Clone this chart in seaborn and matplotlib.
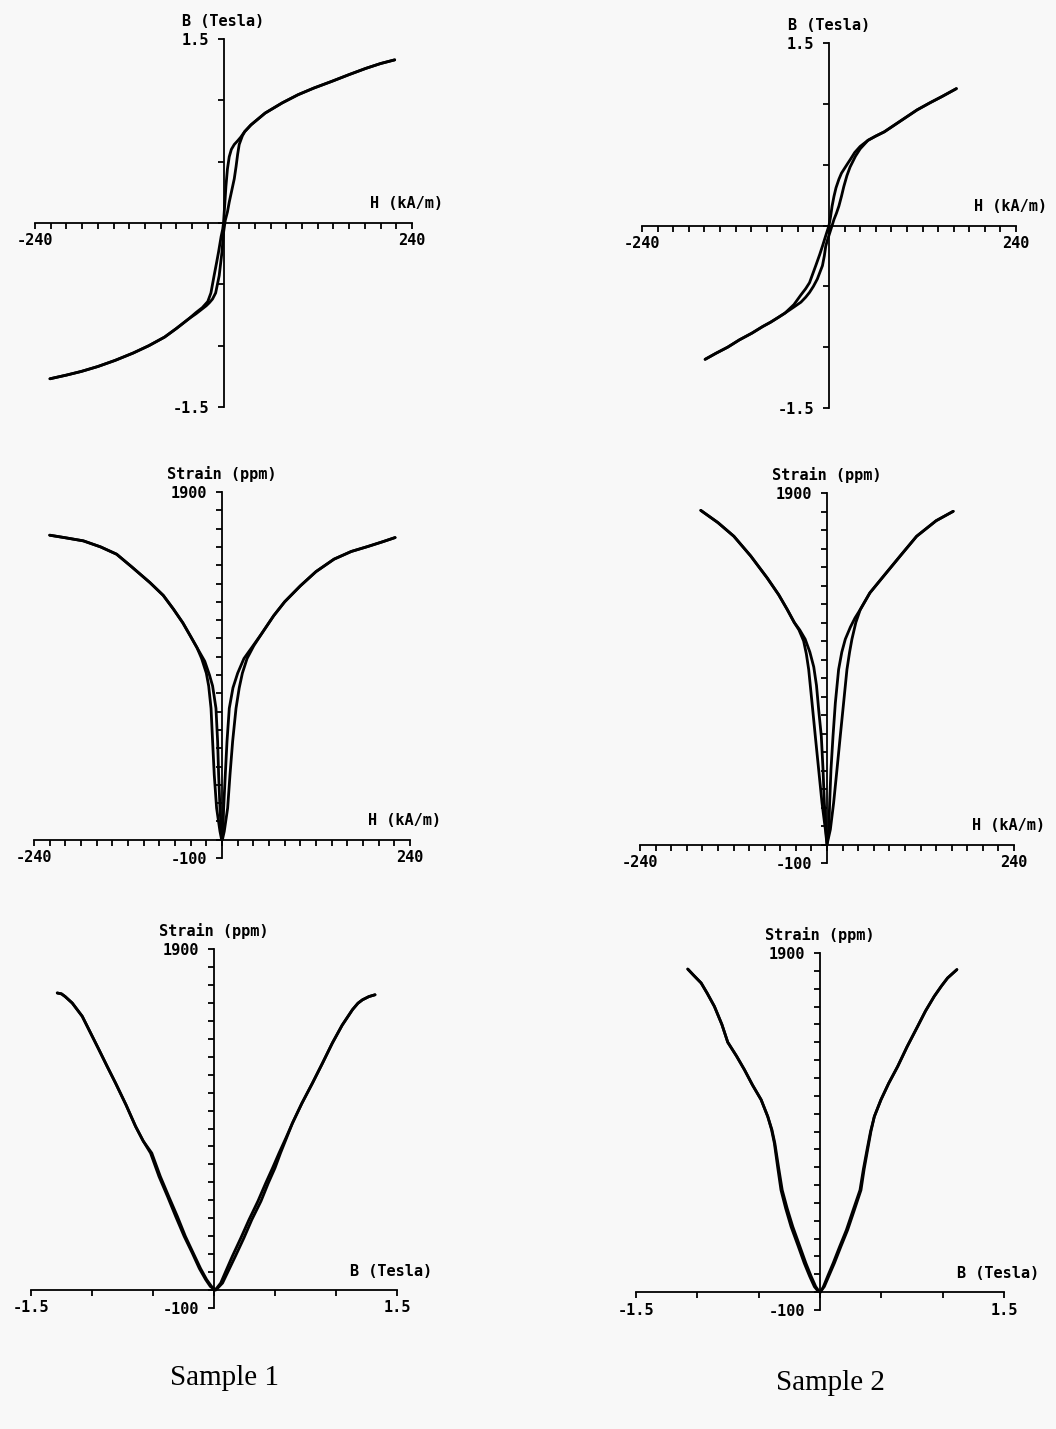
import numpy as np
import pandas as pd
import matplotlib
matplotlib.use("Agg")
import matplotlib.pyplot as plt
import seaborn as sns

# ---------------- DATA ----------------
# Sample 1, B (Tesla) vs H (kA/m): two branches of the loop
s1_bh_H_a = [-221, -200, -181, -160, -138, -115, -95, -75, -60, -44, -35, -27, -20, -16, -12, -9, -6.4, -3, -1, 0, 0.9, 2, 3.1, 5, 7.3, 10, 13.7, 18, 22, 27, 35, 53, 75, 95, 115, 138, 160, 181, 200, 218]
s1_bh_B_a = [-1.27, -1.24, -1.21, -1.17, -1.12, -1.06, -1.00, -0.93, -0.86, -0.78, -0.73, -0.69, -0.64, -0.57, -0.43, -0.33, -0.24, -0.11, -0.05, 0.0, 0.086, 0.19, 0.30, 0.44, 0.54, 0.60, 0.64, 0.67, 0.70, 0.745, 0.80, 0.896, 0.98, 1.046, 1.10, 1.155, 1.21, 1.26, 1.30, 1.33]
s1_bh_H_b = [-221, -200, -181, -160, -138, -115, -95, -75, -60, -44, -35, -27, -22, -18, -14, -10, -5.5, -2, 0, 2.2, 5, 7.3, 10, 13.7, 16, 18, 20, 24, 27, 35, 53, 75, 95, 115, 138, 160, 181, 200, 218]
s1_bh_B_b = [-1.27, -1.24, -1.21, -1.17, -1.12, -1.06, -1.00, -0.93, -0.86, -0.78, -0.74, -0.70, -0.675, -0.65, -0.62, -0.57, -0.43, -0.24, -0.08, 0.02, 0.09, 0.17, 0.25, 0.36, 0.46, 0.56, 0.64, 0.71, 0.745, 0.80, 0.896, 0.98, 1.046, 1.10, 1.155, 1.21, 1.26, 1.30, 1.33]

# Sample 2, B (Tesla) vs H (kA/m)
s2_bh_H_a = [-159, -145, -130, -115, -99, -85, -75, -65, -56.5, -45, -36, -30, -25, -21, -17, -12, -8.4, -5, -2, 0, 2.1, 4, 6.4, 9, 12.7, 16, 20, 24, 27.6, 33, 40, 50, 60, 71, 85, 99, 113, 130, 145, 163.5]
s2_bh_B_a = [-1.10, -1.05, -1.00, -0.94, -0.885, -0.83, -0.795, -0.755, -0.72, -0.65, -0.57, -0.52, -0.47, -0.40, -0.33, -0.24, -0.17, -0.10, -0.04, 0.0, 0.076, 0.16, 0.24, 0.31, 0.38, 0.43, 0.47, 0.51, 0.545, 0.60, 0.65, 0.70, 0.735, 0.77, 0.83, 0.89, 0.95, 1.01, 1.06, 1.125]
s2_bh_H_b = [-159, -145, -130, -115, -99, -85, -75, -65, -56.5, -45, -36, -30, -25, -20, -15, -12, -8.4, -6, -4.2, -2, 0, 3, 6.4, 9.5, 12.7, 16, 19, 23, 27, 34, 40, 50, 60, 71, 85, 99, 113, 130, 145, 163.5]
s2_bh_B_b = [-1.10, -1.05, -1.00, -0.94, -0.885, -0.83, -0.795, -0.755, -0.72, -0.67, -0.63, -0.59, -0.55, -0.50, -0.44, -0.39, -0.33, -0.25, -0.17, -0.12, -0.08, -0.02, 0.05, 0.10, 0.16, 0.24, 0.32, 0.41, 0.48, 0.57, 0.63, 0.70, 0.735, 0.77, 0.83, 0.89, 0.95, 1.01, 1.06, 1.125]

# Sample 1, strain (ppm) vs H (kA/m)
s1_sh_H_a = [-220, -200, -177, -155, -134.5, -115, -92, -75, -62, -50, -40.6, -32, -26, -20, -17, -14, -12, -9.9, -6.9, -2.6, -0.5, 1.2, 2.1, 4.2, 6.4, 9.3, 14, 20, 28, 38, 50, 66, 80, 100, 120, 143, 165, 186, 205, 221]
s1_sh_S_a = [1664, 1650, 1633, 1600, 1560, 1490, 1405, 1335, 1260, 1185, 1115, 1050, 990, 910, 840, 718, 538, 355, 173, 46, 0, 46, 173, 355, 538, 718, 830, 910, 990, 1050, 1122, 1224, 1300, 1387, 1465, 1533, 1575, 1602, 1628, 1651]
s1_sh_H_b = [-220, -200, -177, -155, -134.5, -115, -92, -75, -62, -50, -40.6, -32, -22, -16, -12, -7.7, -5.6, -4.3, -2.6, -0.9, 0.5, 2.9, 7.2, 10.2, 13.6, 17.9, 22, 26, 32, 40.6, 50, 66, 80, 100, 120, 143, 165, 186, 205, 221]
s1_sh_S_b = [1664, 1650, 1633, 1600, 1560, 1490, 1405, 1335, 1260, 1185, 1115, 1050, 975, 900, 840, 718, 538, 355, 173, 46, 0, 46, 173, 355, 538, 718, 830, 910, 990, 1060, 1122, 1224, 1300, 1387, 1465, 1533, 1575, 1602, 1628, 1651]

# Sample 2, strain (ppm) vs H (kA/m)
s2_sh_H_a = [-162, -140, -119.5, -98, -76.8, -62, -51, -42, -36, -30, -26.5, -23.5, -19.2, -15, -10.7, -6.4, -2.1, 0, 2.3, 3.4, 5.1, 7.7, 10.7, 14.9, 19, 23.5, 30, 36, 42.7, 55, 72.5, 95, 115, 140, 162]
s2_sh_S_a = [1806, 1740, 1666, 1560, 1441, 1350, 1270, 1200, 1160, 1100, 1030, 946, 765, 585, 405, 225, 81, 0, 81, 225, 405, 585, 765, 946, 1040, 1110, 1175, 1225, 1270, 1360, 1450, 1565, 1666, 1750, 1801]
s2_sh_H_b = [-162, -140, -119.5, -98, -76.8, -62, -51, -42, -35, -28, -22, -17, -13.5, -10.5, -7.3, -5.1, -3.4, -1.3, 0, 4.3, 8.5, 12.8, 17, 21.3, 25.6, 29, 32, 37, 42.7, 55, 72.5, 95, 115, 140, 162]
s2_sh_S_b = [1806, 1740, 1666, 1560, 1441, 1350, 1270, 1200, 1160, 1110, 1040, 960, 860, 720, 585, 405, 225, 81, 0, 81, 225, 405, 585, 765, 946, 1040, 1110, 1200, 1270, 1360, 1450, 1565, 1666, 1750, 1801]

# Sample 1, strain (ppm) vs B (Tesla)
s1_sb_B_a = [-1.285, -1.25, -1.22, -1.162, -1.08, -1.01, -0.943, -0.875, -0.807, -0.72, -0.643, -0.58, -0.52, -0.451, -0.38, -0.314, -0.245, -0.178, -0.12, -0.068, -0.03, 0.01, 0.055, 0.10, 0.15, 0.22, 0.287, 0.36, 0.424, 0.48, 0.533, 0.59, 0.643, 0.72, 0.807, 0.89, 0.97, 1.05, 1.135, 1.18, 1.217, 1.27, 1.32]
s1_sb_S_a = [1655, 1650, 1635, 1599, 1525, 1430, 1339, 1245, 1153, 1030, 912, 830, 763, 633, 520, 410, 300, 206, 120, 58, 20, 0, 39, 110, 188, 290, 392, 495, 596, 680, 763, 848, 930, 1040, 1153, 1265, 1376, 1475, 1562, 1598, 1617, 1635, 1645]
s1_sb_B_b = [-1.285, -1.25, -1.22, -1.162, -1.08, -1.01, -0.943, -0.875, -0.807, -0.72, -0.643, -0.58, -0.51, -0.44, -0.37, -0.30, -0.235, -0.17, -0.11, -0.06, -0.02, 0.015, 0.07, 0.12, 0.175, 0.245, 0.31, 0.385, 0.445, 0.50, 0.545, 0.595, 0.643, 0.72, 0.807, 0.89, 0.97, 1.05, 1.135, 1.18, 1.217, 1.27, 1.32]
s1_sb_S_b = s1_sb_S_a

# Sample 2, strain (ppm) vs B (Tesla)
s2_sb_B_a = [-1.078, -1.03, -0.969, -0.92, -0.861, -0.80, -0.752, -0.68, -0.616, -0.55, -0.48, -0.426, -0.395, -0.372, -0.345, -0.318, -0.28, -0.236, -0.18, -0.128, -0.085, -0.046, -0.015, 0.0, 0.035, 0.075, 0.117, 0.17, 0.225, 0.28, 0.334, 0.36, 0.388, 0.415, 0.443, 0.497, 0.56, 0.633, 0.71, 0.796, 0.86, 0.931, 0.99, 1.04, 1.116]
s2_sb_S_a = [1810, 1775, 1732, 1675, 1601, 1500, 1400, 1322, 1246, 1160, 1078, 984, 910, 834, 700, 572, 470, 367, 262, 162, 90, 31, 5, 0, 31, 95, 162, 255, 348, 460, 572, 690, 797, 900, 984, 1078, 1170, 1264, 1375, 1489, 1575, 1657, 1715, 1760, 1807]
s2_sb_B_b = [-1.078, -1.03, -0.969, -0.92, -0.861, -0.80, -0.752, -0.68, -0.616, -0.55, -0.48, -0.426, -0.392, -0.368, -0.338, -0.308, -0.268, -0.222, -0.167, -0.115, -0.073, -0.035, -0.008, 0.005, 0.028, 0.066, 0.107, 0.16, 0.215, 0.27, 0.326, 0.354, 0.383, 0.412, 0.443, 0.497, 0.56, 0.633, 0.71, 0.796, 0.86, 0.931, 0.99, 1.04, 1.116]
s2_sb_S_b = s2_sb_S_a

h_ticks = list(range(-240, 241, 20))
h_ticklabels = ["-240"] + [""] * 23 + ["240"]
b_ticks = [-1.5, -1.0, -0.5, 0.0, 0.5, 1.0, 1.5]
b_ticklabels = ["-1.5", "", "", "", "", "", "1.5"]
s_ticks = list(range(-100, 1901, 100))
s_ticklabels = ["-100"] + [""] * 19 + ["1900"]
captions = ["Sample 1", "Sample 2"]

# ---------------- FIGURE ----------------
sns.set_theme(style="white")
plt.rcParams["font.family"] = ["DejaVu Sans Mono", "DejaVu Sans"]

W, H = 1056, 1429
fig = plt.figure(figsize=(W / 100, H / 100), dpi=100)
fig.patch.set_facecolor("#f8f8f8")

TXT = dict(fontsize=11, fontweight="bold", color="black")


def panel(box, xa, ya, xb, yb, xname, yname, xlim, ylim, xt, xtl, yt, ytl, xlab_off):
    l, r, t, b = box
    ax = fig.add_axes([l / W, 1 - b / H, (r - l) / W, (b - t) / H])
    df = pd.DataFrame({
        "x": list(xa) + list(xb),
        "y": list(ya) + list(yb),
        "branch": ["a"] * len(xa) + ["b"] * len(xb),
    })
    sns.lineplot(data=df, x="x", y="y", units="branch", estimator=None, sort=False,
                 color="black", linewidth=2.0, ax=ax, legend=False)
    ax.set_xlabel("")
    ax.set_ylabel("")
    ax.set_xlim(xlim)
    ax.set_ylim(ylim)
    ax.patch.set_alpha(0)
    for s in ("top", "right"):
        ax.spines[s].set_visible(False)
    ax.spines["left"].set_position(("data", 0))
    ax.spines["bottom"].set_position(("data", 0))
    for s in ("left", "bottom"):
        ax.spines[s].set_color("black")
        ax.spines[s].set_linewidth(1.3)
    ax.set_xticks(xt)
    ax.set_xticklabels(xtl)
    ax.set_yticks(yt)
    ax.set_yticklabels(ytl)
    ax.tick_params(axis="both", direction="out", length=4.5, width=1.3, color="black",
                   labelsize=11, labelcolor="black")
    ax.tick_params(axis="x", pad=3, bottom=True)
    ax.tick_params(axis="y", pad=6, left=True)
    for lab in ax.get_xticklabels() + ax.get_yticklabels():
        lab.set_fontweight("bold")
    ax.annotate(yname, xy=(0, ylim[1]), xycoords="data", xytext=(0, 18),
                textcoords="offset pixels", ha="center", va="center", **TXT)
    ax.annotate(xname, xy=(xlim[1], 0), xycoords="data", xytext=(xlab_off, 19),
                textcoords="offset pixels", ha="center", va="center", **TXT)
    ax.grid(False)
    return ax


HL = (-240, 240)
BL = (-1.5, 1.5)
SL = (-100, 1900)

panel((35, 412, 39, 407), s1_bh_H_a, s1_bh_B_a, s1_bh_H_b, s1_bh_B_b,
      "H (kA/m)", "B (Tesla)", HL, BL, h_ticks, h_ticklabels, b_ticks, b_ticklabels, -6)
panel((642, 1016, 43, 408), s2_bh_H_a, s2_bh_B_a, s2_bh_H_b, s2_bh_B_b,
      "H (kA/m)", "B (Tesla)", HL, BL, h_ticks, h_ticklabels, b_ticks, b_ticklabels, -6)
panel((34, 410, 492, 858), s1_sh_H_a, s1_sh_S_a, s1_sh_H_b, s1_sh_S_b,
      "H (kA/m)", "Strain (ppm)", HL, SL, h_ticks, h_ticklabels, s_ticks, s_ticklabels, -6)
panel((640, 1014, 493, 863), s2_sh_H_a, s2_sh_S_a, s2_sh_H_b, s2_sh_S_b,
      "H (kA/m)", "Strain (ppm)", HL, SL, h_ticks, h_ticklabels, s_ticks, s_ticklabels, -6)
panel((31, 397, 949, 1308), s1_sb_B_a, s1_sb_S_a, s1_sb_B_b, s1_sb_S_b,
      "B (Tesla)", "Strain (ppm)", BL, SL, b_ticks, b_ticklabels, s_ticks, s_ticklabels, -6)
panel((636, 1004, 953, 1310), s2_sb_B_a, s2_sb_S_a, s2_sb_B_b, s2_sb_S_b,
      "B (Tesla)", "Strain (ppm)", BL, SL, b_ticks, b_ticklabels, s_ticks, s_ticklabels, -6)

fig.text(225 / W, 1 - 1378 / H, captions[0], ha="center", va="center",
         fontsize=21, family="Liberation Serif", color="black")
fig.text(830 / W, 1 - 1383 / H, captions[1], ha="center", va="center",
         fontsize=21, family="Liberation Serif", color="black")

fig.savefig("out.png", dpi=100, facecolor=fig.get_facecolor())
